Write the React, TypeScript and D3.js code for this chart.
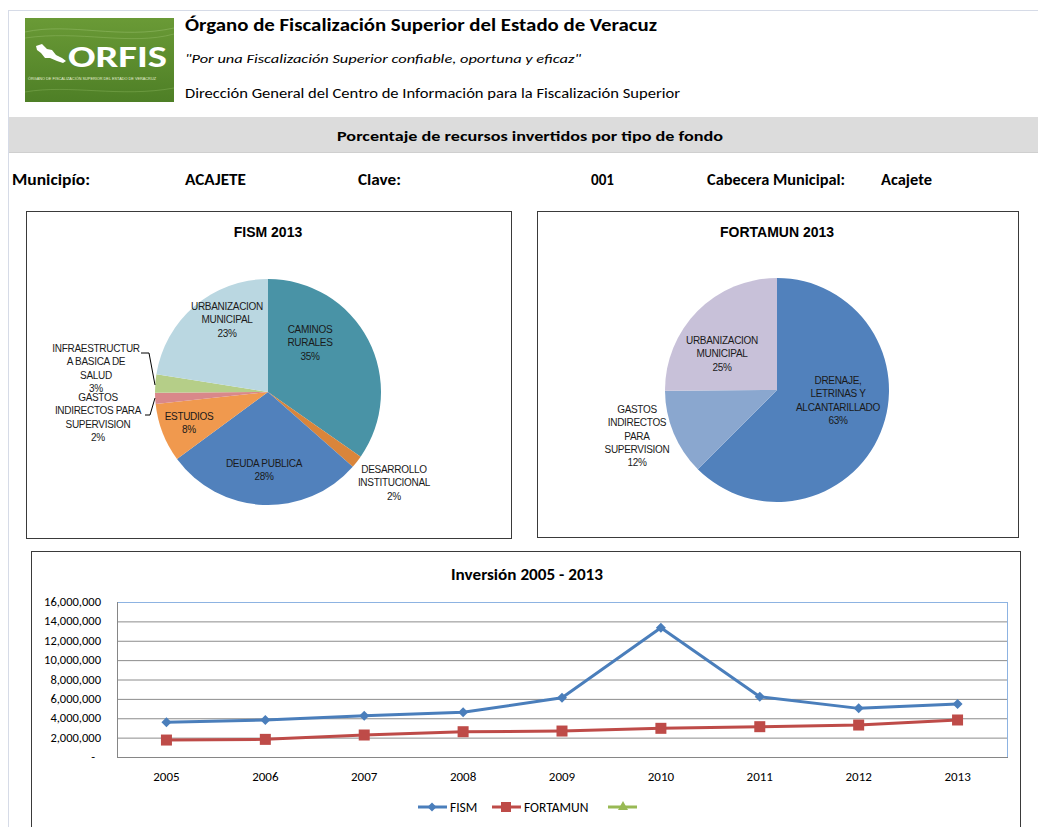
import React from 'react';
import * as d3 from 'd3';

// FISM 2013 breakdown (percent of total)
const fismCategories = [
  'CAMINOS\nRURALES',
  'DESARROLLO\nINSTITUCIONAL',
  'DEUDA PUBLICA',
  'ESTUDIOS',
  'GASTOS\nINDIRECTOS PARA\nSUPERVISION',
  'INFRAESTRUCTUR\nA BASICA DE\nSALUD',
  'URBANIZACION\nMUNICIPAL',
];
const fismShares = [34.7, 1.8, 28.4, 8.4, 1.6, 2.6, 22.5];

// FORTAMUN 2013 breakdown (percent of total)
const fortamunCategories = [
  'DRENAJE,\nLETRINAS Y\nALCANTARILLADO',
  'GASTOS\nINDIRECTOS\nPARA\nSUPERVISION',
  'URBANIZACION\nMUNICIPAL',
];
const fortamunShares = [62.5, 12.4, 25.1];

// Inversion 2005 - 2013
const years = ['2005', '2006', '2007', '2008', '2009', '2010', '2011', '2012', '2013'];
const fismValues = [3580000, 3820000, 4270000, 4610000, 6120000, 13350000, 6230000, 5020000, 5470000];
const fortamunValues = [1750000, 1820000, 2270000, 2610000, 2680000, 2960000, 3130000, 3300000, 3820000];
const yTicks = [0, 2000000, 4000000, 6000000, 8000000, 10000000, 12000000, 14000000, 16000000];

// colours
const fismColors = ['#4993a6', '#d9853b', '#5181bc', '#f0994e', '#d9888a', '#b5ce88', '#bad7e1'];
const fortamunColors = ['#5181bc', '#8aa7cf', '#c8c1d9'];

// label anchors relative to pie centre (Excel "best fit" positions)
const fismLabelPos = [[42, -63], [126, 77], [-4, 71], [-79, 24], [-170, 5], [-172, -44], [-41, -86]];
const fortamunLabelPos = [[61, -10], [-140, 19], [-55, -50]];

const calibri = "Carlito, Calibri, Lato, sans-serif";
const arial = "'Liberation Sans', Arial, sans-serif";

const pieGen = d3.pie<number>().sort(null).value((d) => d);

function PieChart({ x, y, w, h, title, cats, shares, colors, labelPos, cx, cy, r, leaders }: any) {
  const arcs = pieGen(shares);
  const arc = d3.arc<any>().innerRadius(0).outerRadius(r);
  const lh = 13.3;
  return (
    <g>
      <rect x={x + 0.5} y={y + 0.5} width={w} height={h} fill="#fff" stroke="#3a3a3a" />
      <text x={cx} y={y + 26} textAnchor="middle" fontFamily={arial} fontWeight="bold" fontSize={14} fill="#000">
        {title}
      </text>
      <g transform={`translate(${cx},${cy})`}>
        {arcs.map((a, i) => (
          <path key={i} d={arc(a) as string} fill={colors[i]} />
        ))}
        {leaders && leaders.map((pts: number[][], i: number) => (
          <polyline key={'l' + i} points={pts.map((p) => p.join(',')).join(' ')} fill="none" stroke="#000" strokeWidth={1} />
        ))}
        {cats.map((c: string, i: number) => {
          const lines = [...c.split('\n'), Math.round(shares[i]) + '%'];
          const [dx, dy] = labelPos[i];
          return (
            <text key={i} textAnchor="middle" fontFamily={arial} fontSize={10} letterSpacing={-0.3} fill="#1a1a1a">
              {lines.map((ln, j) => (
                <tspan key={j} x={dx} y={dy + j * lh + 4}>{ln}</tspan>
              ))}
            </text>
          );
        })}
      </g>
    </g>
  );
}

function diamond(s: number) {
  return `M0,${-s}L${s},0L0,${s}L${-s},0Z`;
}

export default function App() {
  // line chart geometry
  const plot = { left: 117, right: 1007, top: 602, bottom: 757 };
  const xScale = d3.scaleBand<string>().domain(years).range([plot.left, plot.right]).padding(0);
  const yScale = d3.scaleLinear().domain([0, 16000000]).range([plot.bottom, plot.top]);
  const cxOf = (yr: string) => (xScale(yr) as number) + xScale.bandwidth() / 2;
  const line = d3.line<number>().x((_, i) => cxOf(years[i])).y((d) => yScale(d));
  const fmt = d3.format(',');

  return (
    <div style={{ position: 'absolute', left: 0, top: 0 }}>
      <svg width={1038} height={827} style={{ display: 'block', background: '#fff' }}>
        {/* sheet frame */}
        <line x1={8} x2={1038} y1={10.5} y2={10.5} stroke="#d6dbe7" />
        <line x1={8.5} x2={8.5} y1={10} y2={827} stroke="#d6dbe7" />

        {/* logo */}
        <defs>
          <linearGradient id="lg" x1="0" y1="0" x2="0" y2="1">
            <stop offset="0" stopColor="#6a9a36" />
            <stop offset="1" stopColor="#4e7f26" />
          </linearGradient>
        </defs>
        <rect x={25} y={18} width={149} height={84} fill="url(#lg)" />
        <path d="M25,32 C70,22 120,40 174,28" fill="none" stroke="#8fb862" strokeWidth={1} opacity={0.6} />
        <path d="M25,38 C80,30 130,46 174,34" fill="none" stroke="#8fb862" strokeWidth={1} opacity={0.5} />
        <path d="M25,92 C70,84 120,98 174,88" fill="none" stroke="#8fb862" strokeWidth={1} opacity={0.4} />
        <path d="M36,46 L42,44 L47,49 L52,50 L56,55 L62,58 L66,61 L63,63 L57,61 L50,58 L45,58 L41,53 L37,50 Z" fill="#fff" />
        <text x={68} y={67} fontFamily={calibri} fontWeight="bold" fontSize={31} fill="#fff" textLength={99} lengthAdjust="spacingAndGlyphs">
          ORFIS
        </text>
        <text x={28} y={80} fontFamily={arial} fontSize={3.2} fill="#e6f0d8" textLength={128} lengthAdjust="spacingAndGlyphs">
          ÓRGANO DE FISCALIZACIÓN SUPERIOR DEL ESTADO DE VERACRUZ
        </text>

        {/* header text */}
        <text x={185} y={31} fontFamily={calibri} fontWeight="bold" fontSize={17} fill="#000" textLength={472} lengthAdjust="spacingAndGlyphs">
          Órgano de Fiscalización Superior del Estado de Veracuz
        </text>
        <text x={185} y={63} fontFamily={calibri} fontStyle="italic" fontSize={13} fill="#000" textLength={396} lengthAdjust="spacingAndGlyphs">
          "Por una Fiscalización Superior confiable, oportuna y eficaz"
        </text>
        <text x={185} y={98} fontFamily={calibri} fontSize={13.5} fill="#000" textLength={495} lengthAdjust="spacingAndGlyphs">
          Dirección General del Centro de Información para la Fiscalización Superior
        </text>

        {/* grey band */}
        <rect x={9} y={117} width={1029} height={35} fill="#dcdcdc" />
        <line x1={9} x2={1038} y1={152.5} y2={152.5} stroke="#cfcfcf" />
        <text x={530} y={141} textAnchor="middle" fontFamily={calibri} fontWeight="bold" fontSize={14} fill="#000" textLength={386} lengthAdjust="spacingAndGlyphs">
          Porcentaje de recursos invertidos por tipo de fondo
        </text>

        {/* info row */}
        <g fontFamily={calibri} fontWeight="bold" fontSize={15} fill="#000">
          <text x={12} y={185} textLength={78} lengthAdjust="spacingAndGlyphs">Municipío:</text>
          <text x={185} y={185} textLength={61} lengthAdjust="spacingAndGlyphs">ACAJETE</text>
          <text x={358} y={185} textLength={43} lengthAdjust="spacingAndGlyphs">Clave:</text>
          <text x={591} y={185} textLength={23} lengthAdjust="spacingAndGlyphs">001</text>
          <text x={707} y={185} textLength={138} lengthAdjust="spacingAndGlyphs">Cabecera Municipal:</text>
          <text x={881} y={185} textLength={51} lengthAdjust="spacingAndGlyphs">Acajete</text>
        </g>

        {/* pies */}
        <PieChart
          x={26} y={211} w={485} h={327}
          title="FISM 2013"
          cats={fismCategories} shares={fismShares} colors={fismColors} labelPos={fismLabelPos}
          cx={268} cy={392} r={113}
          leaders={[
            [[-127, -39], [-119, -39], [-113, -7]],
            [[-123, 23], [-118, 23], [-113, 6]],
          ]}
        />
        <PieChart
          x={537} y={211} w={481} h={326}
          title="FORTAMUN 2013"
          cats={fortamunCategories} shares={fortamunShares} colors={fortamunColors} labelPos={fortamunLabelPos}
          cx={777} cy={390} r={112}
        />

        {/* line chart */}
        <rect x={31.5} y={551.5} width={989} height={290} fill="#fff" stroke="#3a3a3a" />
        <text x={527} y={580} textAnchor="middle" fontFamily={calibri} fontWeight="bold" fontSize={15} fill="#000" textLength={152} lengthAdjust="spacingAndGlyphs">
          Inversión 2005 - 2013
        </text>
        {yTicks.slice(1).map((t) => (
          <line key={t} x1={plot.left} x2={plot.right} y1={yScale(t) + 0.5} y2={yScale(t) + 0.5} stroke="#8c8c8c" />
        ))}
        <rect x={plot.left + 0.5} y={plot.top + 0.5} width={plot.right - plot.left} height={plot.bottom - plot.top} fill="none" stroke="#8db3e2" />
        <line x1={plot.left + 0.5} x2={plot.left + 0.5} y1={plot.top} y2={plot.bottom + 1} stroke="#868686" />
        <line x1={plot.left} x2={plot.right + 1} y1={plot.bottom + 0.5} y2={plot.bottom + 0.5} stroke="#868686" />
        {yTicks.map((t) => (
          <text key={t} x={t === 0 ? 95 : 101} y={yScale(t) + 4} textAnchor="end" fontFamily={calibri} fontSize={12.5} fill="#000">
            {t === 0 ? '-' : fmt(t)}
          </text>
        ))}
        {years.map((yr) => (
          <text key={yr} x={cxOf(yr)} y={781} textAnchor="middle" fontFamily={calibri} fontSize={13} fill="#000">
            {yr}
          </text>
        ))}
        <path d={line(fismValues) as string} fill="none" stroke="#4a7ebb" strokeWidth={3} strokeLinejoin="round" />
        <path d={line(fortamunValues) as string} fill="none" stroke="#be4b48" strokeWidth={3} strokeLinejoin="round" />
        {fismValues.map((v, i) => (
          <path key={i} transform={`translate(${cxOf(years[i])},${yScale(v)})`} d={diamond(5)} fill="#4a7ebb" />
        ))}
        {fortamunValues.map((v, i) => (
          <rect key={i} x={cxOf(years[i]) - 5.5} y={yScale(v) - 5.5} width={11} height={11} fill="#be4b48" />
        ))}

        {/* legend */}
        <g fontFamily={calibri} fontSize={13.5} fill="#000">
          <line x1={418} x2={447} y1={807} y2={807} stroke="#4a7ebb" strokeWidth={3} />
          <path transform="translate(432,807)" d={diamond(4.5)} fill="#4a7ebb" />
          <text x={450} y={812}>FISM</text>
          <line x1={492} x2={521} y1={807} y2={807} stroke="#be4b48" strokeWidth={3} />
          <rect x={501} y={802} width={10} height={10} fill="#be4b48" />
          <text x={524} y={812}>FORTAMUN</text>
          <line x1={608} x2={637} y1={807} y2={807} stroke="#98b954" strokeWidth={3} />
          <path transform="translate(623,806)" d="M0,-5L5,4L-5,4Z" fill="#98b954" />
        </g>
      </svg>
    </div>
  );
}
